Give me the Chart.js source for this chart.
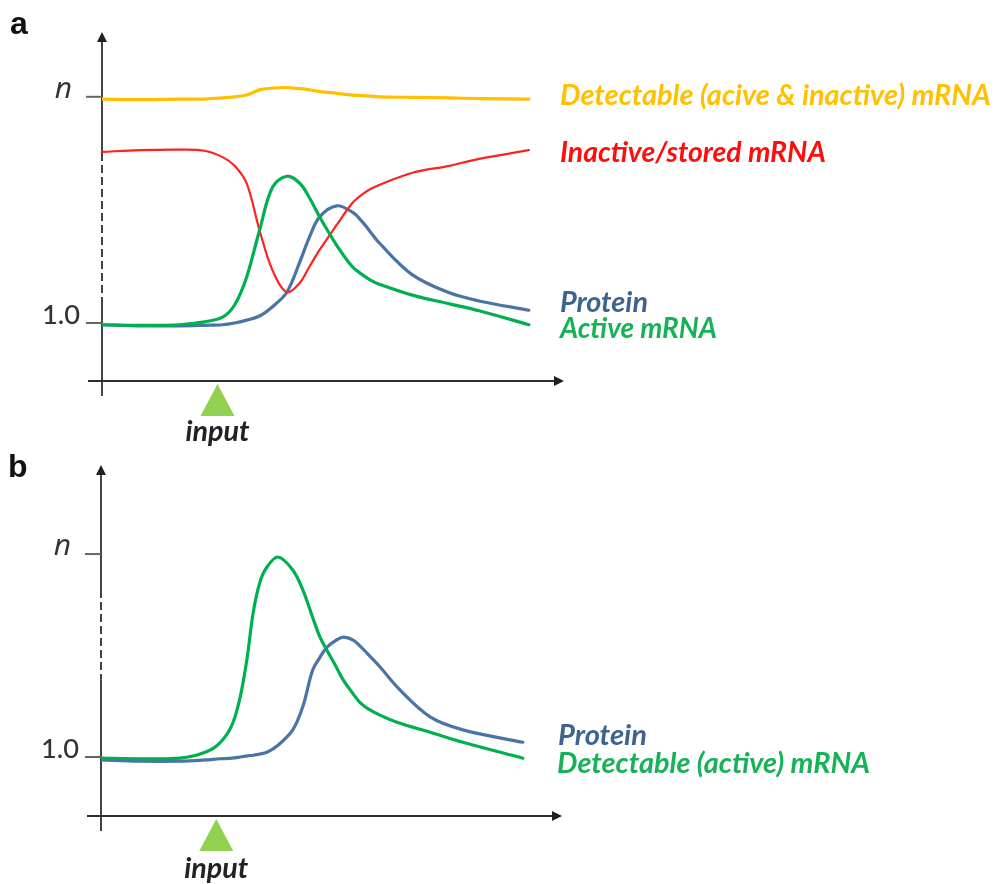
<!DOCTYPE html>
<html><head><meta charset="utf-8">
<script src="https://cdn.jsdelivr.net/npm/chart.js@4"></script>
<style>
html,body{margin:0;padding:0;background:#fff;width:994px;height:884px;overflow:hidden}
canvas{position:absolute;left:0}
</style></head>
<body>
<canvas id="ca" width="994" height="450" style="top:0"></canvas>
<canvas id="cb" width="994" height="434" style="top:450px"></canvas>
<script>
// ---------- Panel a data ----------
const timeA = [0, 8.2, 16.8, 22.2, 26.1, 28.7, 31.3, 34.1, 36.9, 40.0, 42.8, 44.9, 47.1, 50.8, 54.2, 56.4, 58.1, 60.0, 67.2, 75.2, 81.6, 92.4];
const detectableA = [4.86, 4.85, 4.86, 4.86, 4.88, 4.90, 4.93, 5.02, 5.05, 5.06, 5.04, 5.02, 4.99, 4.96, 4.93, 4.92, 4.91, 4.90, 4.89, 4.88, 4.87, 4.86];
const inactiveA   = [3.95, 3.98, 3.99, 3.97, 3.86, 3.71, 3.41, 2.60, 1.91, 1.53, 1.69, 1.97, 2.26, 2.69, 3.07, 3.22, 3.31, 3.38, 3.59, 3.71, 3.83, 3.98];
const activeA     = [0.97, 0.96, 0.97, 1.02, 1.10, 1.31, 1.79, 2.60, 3.34, 3.53, 3.41, 3.16, 2.83, 2.34, 1.97, 1.83, 1.74, 1.67, 1.48, 1.33, 1.21, 0.97];
const proteinA    = [0.97, 0.95, 0.95, 0.96, 0.97, 1.00, 1.05, 1.12, 1.28, 1.53, 2.05, 2.48, 2.83, 3.02, 2.91, 2.74, 2.57, 2.38, 1.83, 1.52, 1.38, 1.22];
const tickValuesA = [1.0, 4.9];
const namesA = ['Detectable (acive & inactive) mRNA', 'Inactive/stored mRNA', 'Protein', 'Active mRNA'];

// ---------- Panel b data ----------
const timeB = [0, 8.5, 17.1, 22.6, 25.8, 28.4, 30.2, 31.7, 33.0, 34.5, 36.0, 38.4, 41.6, 43.8, 45.9, 47.5, 49.0, 50.8, 52.5, 54.7, 56.2, 57.7, 60.5, 64.2, 71.4, 78.5, 91.5];
const activeB  = [0.98, 0.97, 0.98, 1.08, 1.24, 1.54, 2.02, 2.68, 3.44, 3.97, 4.22, 4.39, 4.17, 3.83, 3.37, 3.03, 2.81, 2.56, 2.31, 2.07, 1.92, 1.83, 1.71, 1.59, 1.42, 1.25, 0.98];
const proteinB = [0.95, 0.93, 0.93, 0.95, 0.97, 0.98, 1.00, 1.02, 1.03, 1.05, 1.08, 1.20, 1.46, 1.86, 2.47, 2.69, 2.86, 2.97, 3.03, 2.98, 2.88, 2.76, 2.53, 2.19, 1.68, 1.46, 1.25];
const tickValuesB = [1.0, 4.44];
const namesB = ['Protein', 'Detectable (active) mRNA'];

// shared
const tickLabels = ['1.0', 'n'];
const inputTime = 25;
const inputLabel = 'input';

const COL = {yellow:'#FFC000', red:'#FF2020', green:'#00B050', blue:'#4A73A6',
             blueText:'#3D6491', greenText:'#17B257', redText:'#FF0D0D', yellowText:'#FFC000'};

function pts(xs, ys){ return xs.map((x,i)=>({x:x, y:ys[i]})); }

function fitFont(ctx, text, style, family, w){
  ctx.font = style + ' 20px ' + family;
  const m = ctx.measureText(text).width;
  const s = 20 * w / m;
  return style + ' ' + s.toFixed(2) + 'px ' + family;
}

const schematic = {
  id:'schematic',
  beforeDatasetsDraw(chart, args, o){
    const {ctx, chartArea:a, scales:{x, y}} = chart;
    const ax = x.getPixelForValue(0), ay = y.getPixelForValue(0);
    ctx.save();
    ctx.strokeStyle = '#303030'; ctx.fillStyle = '#202020'; ctx.lineWidth = 1.8;
    ctx.lineCap = 'butt';
    // x axis
    ctx.beginPath(); ctx.moveTo(ax - 14, ay); ctx.lineTo(a.right - 8, ay); ctx.stroke();
    ctx.beginPath(); ctx.moveTo(a.right, ay); ctx.lineTo(a.right - 10, ay - 5); ctx.lineTo(a.right - 10, ay + 5); ctx.closePath(); ctx.fill();
    // y axis with dashed middle
    const d1 = y.getPixelForValue(o.dash[0]), d2 = y.getPixelForValue(o.dash[1]);
    ctx.beginPath(); ctx.moveTo(ax, a.top + 8); ctx.lineTo(ax, d1); ctx.stroke();
    ctx.setLineDash([8, 4]);
    ctx.beginPath(); ctx.moveTo(ax, d1); ctx.lineTo(ax, d2); ctx.stroke();
    ctx.setLineDash([]);
    ctx.beginPath(); ctx.moveTo(ax, d2); ctx.lineTo(ax, ay + 15); ctx.stroke();
    ctx.beginPath(); ctx.moveTo(ax, a.top); ctx.lineTo(ax - 5, a.top + 10); ctx.lineTo(ax + 5, a.top + 10); ctx.closePath(); ctx.fill();
    // ticks + labels
    o.ticks.forEach((v, i) => {
      const py = y.getPixelForValue(v);
      ctx.strokeStyle = '#666'; ctx.lineWidth = 2;
      ctx.beginPath(); ctx.moveTo(ax - 16, py); ctx.lineTo(ax, py); ctx.stroke();
      ctx.fillStyle = '#333';
      ctx.textAlign = 'right'; ctx.textBaseline = 'alphabetic';
      const t = tickLabels[i];
      if (t === 'n') {
        ctx.font = 'italic 30px "Open Sans"';
        ctx.fillText(t, ax - 30, py + 1);
      } else {
        ctx.font = fitFont(ctx, t, '500', 'Lato', 38);
        ctx.fillText(t, ax - 22, py + 1);
      }
    });
    ctx.restore();
  },
  afterDraw(chart, args, o){
    const {ctx, scales:{x, y}} = chart;
    const ay = y.getPixelForValue(0);
    ctx.save();
    // series labels
    ctx.textAlign = 'left'; ctx.textBaseline = 'alphabetic';
    o.labels.forEach(l => {
      ctx.font = fitFont(ctx, l.text, 'italic bold', 'Lato', l.w);
      ctx.fillStyle = l.color;
      ctx.fillText(l.text, l.x, l.base);
    });
    // panel letter
    ctx.fillStyle = '#111';
    ctx.font = 'bold 32px "Liberation Sans"';
    ctx.fillText(o.letter, o.letterPos[0], o.letterPos[1]);
    // input triangle
    const ix = x.getPixelForValue(inputTime);
    ctx.fillStyle = '#92D050';
    ctx.beginPath(); ctx.moveTo(ix, ay + 3); ctx.lineTo(ix - 17, ay + 35); ctx.lineTo(ix + 17, ay + 35); ctx.closePath(); ctx.fill();
    ctx.fillStyle = '#222';
    ctx.textAlign = 'center';
    ctx.font = fitFont(ctx, inputLabel, 'italic bold', 'Lato', 64);
    ctx.fillText(inputLabel, ix, ay + o.inputDy);
    ctx.restore();
  }
};

function ds(label, xs, ys, color, width, order){
  return {label, data: pts(xs, ys), borderColor: color, borderWidth: width, pointRadius: 0,
          fill: false, tension: 0.35, order, borderJoinStyle: 'round', borderCapStyle: 'round'};
}

new Chart(document.getElementById('ca'), {
  type: 'line',
  data: { datasets: [
    ds(namesA[0], timeA, detectableA, COL.yellow, 3.2, 3),
    ds(namesA[1], timeA, inactiveA, COL.red, 2.2, 1),
    ds(namesA[2], timeA, proteinA, COL.blue, 3.2, 2),
    ds(namesA[3], timeA, activeA, COL.green, 3.2, 0)
  ]},
  options: {
    responsive: false, animation: false, devicePixelRatio: 1,
    layout: { padding: { left: 102, right: 994 - 564, top: 32, bottom: 450 - 381 } },
    scales: {
      x: { type: 'linear', min: 0, max: 100, display: false },
      y: { type: 'linear', min: 0, max: 349 / 58, display: false }
    },
    plugins: {
      legend: { display: false }, tooltip: { enabled: false },
      schematic: {
        dash: [3.93, 1.45], ticks: tickValuesA, letter: 'a', letterPos: [10, 34], inputDy: 60,
        labels: [
          {text: namesA[0], color: COL.yellowText, x: 560, base: 105, w: 431},
          {text: namesA[1], color: COL.redText, x: 560, base: 162, w: 266},
          {text: namesA[2], color: COL.blueText, x: 560, base: 312, w: 88},
          {text: namesA[3], color: COL.greenText, x: 560, base: 338, w: 157}
        ]
      }
    }
  },
  plugins: [schematic]
});

new Chart(document.getElementById('cb'), {
  type: 'line',
  data: { datasets: [
    ds(namesB[0], timeB, proteinB, COL.blue, 3.2, 1),
    ds(namesB[1], timeB, activeB, COL.green, 3.2, 0)
  ]},
  options: {
    responsive: false, animation: false, devicePixelRatio: 1,
    layout: { padding: { left: 101, right: 994 - 562, top: 15, bottom: 434 - 366 } },
    scales: {
      x: { type: 'linear', min: 0, max: 100, display: false },
      y: { type: 'linear', min: 0, max: 351 / 59, display: false }
    },
    plugins: {
      legend: { display: false }, tooltip: { enabled: false },
      schematic: {
        dash: [3.83, 2.31], ticks: tickValuesB, letter: 'b', letterPos: [8, 27], inputDy: 62,
        labels: [
          {text: namesB[0], color: COL.blueText, x: 558, base: 295, w: 89},
          {text: namesB[1], color: COL.greenText, x: 557, base: 323, w: 313}
        ]
      }
    }
  },
  plugins: [schematic]
});
</script>
</body></html>
